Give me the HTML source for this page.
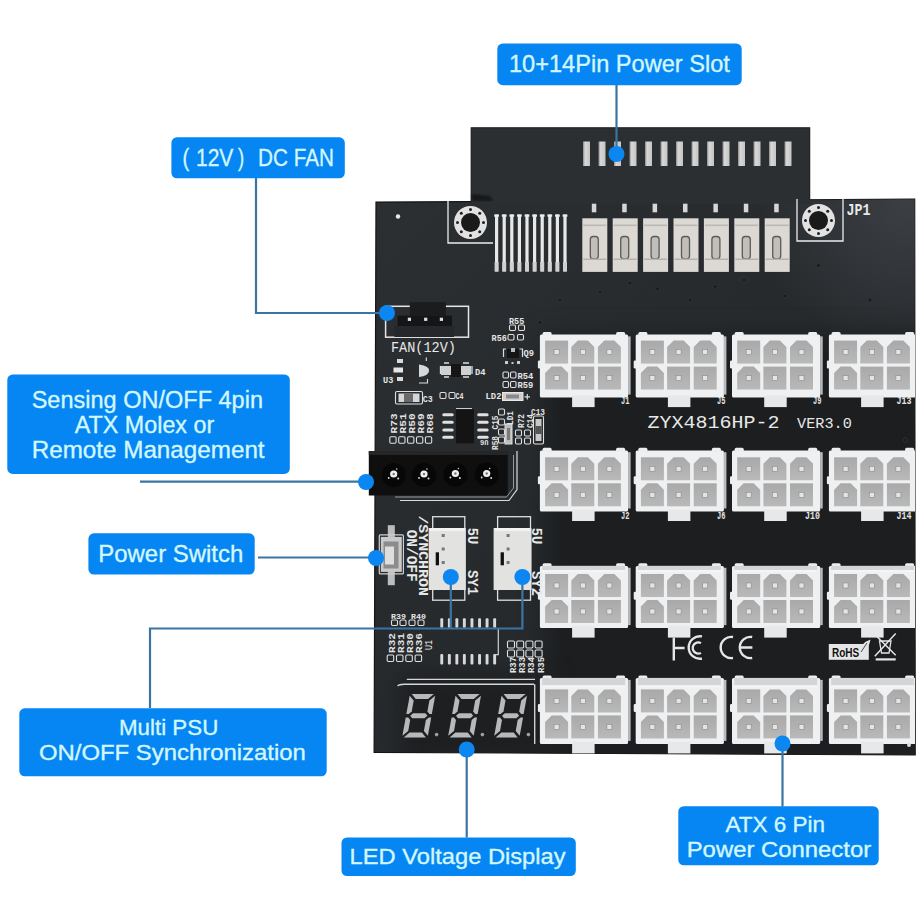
<!DOCTYPE html>
<html><head><meta charset="utf-8"><style>
html,body{margin:0;padding:0;background:#fff;width:923px;height:923px;overflow:hidden;position:relative}

</style></head><body>
<svg width="923" height="923" viewBox="0 0 923 923" style="position:absolute;left:0;top:0">
<defs>
<linearGradient id="cellg" x1="0" y1="0" x2="0" y2="1"><stop offset="0" stop-color="#a9a9a9"/><stop offset="1" stop-color="#b9b9b9"/></linearGradient>
<linearGradient id="pcbg" x1="0" y1="0" x2="1" y2="1"><stop offset="0" stop-color="#2c2f32"/><stop offset="0.5" stop-color="#272a2d"/><stop offset="1" stop-color="#26292c"/></linearGradient>
<linearGradient id="pin" x1="0" y1="0" x2="1" y2="0"><stop offset="0" stop-color="#8a8a8a"/><stop offset="0.3" stop-color="#d8d8d8"/><stop offset="1" stop-color="#c4c4c4"/></linearGradient>
</defs>
<rect width="923" height="923" fill="#ffffff"/>
<clipPath id="c4clip"><rect x="800" y="300" width="114.9" height="500"/></clipPath>
<clipPath id="pcbclip"><polygon points="376,202.1 914.7,199.2 915.2,755 374.1,752.3"/></clipPath>
<filter id="blur1" color-interpolation-filters="sRGB"><feGaussianBlur stdDeviation="1.2"/></filter>
<filter id="blur12" x="-20%" y="-20%" width="140%" height="140%" color-interpolation-filters="sRGB"><feGaussianBlur stdDeviation="12"/></filter>
<polygon points="376,202.1 914.7,199.2 915.2,755 374.1,752.3" fill="url(#pcbg)" stroke="#141516" stroke-width="1.2"/>
<g clip-path="url(#pcbclip)">
<radialGradient id="tr" cx="905" cy="205" r="150" gradientUnits="userSpaceOnUse"><stop offset="0" stop-color="#3b3f43"/><stop offset="1" stop-color="#3b3f43" stop-opacity="0"/></radialGradient>
<rect x="700" y="195" width="220" height="200" fill="url(#tr)"/>
<rect x="545" y="335" width="380" height="430" fill="#1c1e20" filter="url(#blur12)"/>
<rect x="400" y="675" width="150" height="90" fill="#1d1f21" filter="url(#blur12)"/>
</g>
<rect x="471.2" y="127.8" width="338.5" height="76" fill="#2c2f32"/>
<polyline points="471.2,201 471.2,127.8 809.7,127.8 809.7,199.5" fill="none" stroke="#18191a" stroke-width="1.1"/>
<path d="M472 194 L490 196 L493 201 L472 201 Z" fill="#17181a" filter="url(#blur1)"/>
<rect x="583.0" y="141.5" width="7" height="24.5" fill="url(#pin)"/>
<rect x="598.5" y="141.5" width="7" height="24.5" fill="url(#pin)"/>
<rect x="614.0" y="141.5" width="7" height="24.5" fill="url(#pin)"/>
<rect x="629.5" y="141.5" width="7" height="24.5" fill="url(#pin)"/>
<rect x="645.0" y="141.5" width="7" height="24.5" fill="url(#pin)"/>
<rect x="660.5" y="141.5" width="7" height="24.5" fill="url(#pin)"/>
<rect x="676.0" y="141.5" width="7" height="24.5" fill="url(#pin)"/>
<rect x="691.5" y="141.5" width="7" height="24.5" fill="url(#pin)"/>
<rect x="707.0" y="141.5" width="7" height="24.5" fill="url(#pin)"/>
<rect x="722.5" y="141.5" width="7" height="24.5" fill="url(#pin)"/>
<rect x="738.0" y="141.5" width="7" height="24.5" fill="url(#pin)"/>
<rect x="753.5" y="141.5" width="7" height="24.5" fill="url(#pin)"/>
<rect x="769.0" y="141.5" width="7" height="24.5" fill="url(#pin)"/>
<rect x="784.5" y="141.5" width="7" height="24.5" fill="url(#pin)"/>
<circle cx="470.5" cy="222.5" r="16.5" fill="#e2e2e2"/>
<circle cx="470.5" cy="222.5" r="9.5" fill="#1a1a1a"/>
<circle cx="483.5" cy="222.5" r="1.5" fill="#1e1e1e"/>
<circle cx="479.7" cy="231.7" r="1.5" fill="#1e1e1e"/>
<circle cx="470.5" cy="235.5" r="1.5" fill="#1e1e1e"/>
<circle cx="461.3" cy="231.7" r="1.5" fill="#1e1e1e"/>
<circle cx="457.5" cy="222.5" r="1.5" fill="#1e1e1e"/>
<circle cx="461.3" cy="213.3" r="1.5" fill="#1e1e1e"/>
<circle cx="470.5" cy="209.5" r="1.5" fill="#1e1e1e"/>
<circle cx="479.7" cy="213.3" r="1.5" fill="#1e1e1e"/>
<polyline points="448,201 448,243 493,243" fill="none" stroke="#ececec" stroke-width="1.3"/>
<circle cx="818.5" cy="220.5" r="16.5" fill="#e2e2e2"/>
<circle cx="818.5" cy="220.5" r="9.5" fill="#1a1a1a"/>
<circle cx="831.5" cy="220.5" r="1.5" fill="#1e1e1e"/>
<circle cx="827.7" cy="229.7" r="1.5" fill="#1e1e1e"/>
<circle cx="818.5" cy="233.5" r="1.5" fill="#1e1e1e"/>
<circle cx="809.3" cy="229.7" r="1.5" fill="#1e1e1e"/>
<circle cx="805.5" cy="220.5" r="1.5" fill="#1e1e1e"/>
<circle cx="809.3" cy="211.3" r="1.5" fill="#1e1e1e"/>
<circle cx="818.5" cy="207.5" r="1.5" fill="#1e1e1e"/>
<circle cx="827.7" cy="211.3" r="1.5" fill="#1e1e1e"/>
<polyline points="797,199 797,241 843,241 843,199" fill="none" stroke="#ececec" stroke-width="1.3"/>
<rect x="495.0" y="214.5" width="3.2" height="57" fill="#e8e8e8"/>
<rect x="494.2" y="214.5" width="4.8" height="2.2" fill="#ececec"/>
<rect x="494.6" y="262" width="4" height="9.5" fill="#d0d0d0"/>
<rect x="502.6" y="214.5" width="3.2" height="57" fill="#e8e8e8"/>
<rect x="501.8" y="214.5" width="4.8" height="2.2" fill="#ececec"/>
<rect x="502.2" y="262" width="4" height="9.5" fill="#d0d0d0"/>
<rect x="510.2" y="214.5" width="3.2" height="57" fill="#e8e8e8"/>
<rect x="509.4" y="214.5" width="4.8" height="2.2" fill="#ececec"/>
<rect x="509.8" y="262" width="4" height="9.5" fill="#d0d0d0"/>
<rect x="517.8" y="214.5" width="3.2" height="57" fill="#e8e8e8"/>
<rect x="517.0" y="214.5" width="4.8" height="2.2" fill="#ececec"/>
<rect x="517.4" y="262" width="4" height="9.5" fill="#d0d0d0"/>
<rect x="525.4" y="214.5" width="3.2" height="57" fill="#e8e8e8"/>
<rect x="524.6" y="214.5" width="4.8" height="2.2" fill="#ececec"/>
<rect x="525.0" y="262" width="4" height="9.5" fill="#d0d0d0"/>
<rect x="533.0" y="214.5" width="3.2" height="57" fill="#e8e8e8"/>
<rect x="532.2" y="214.5" width="4.8" height="2.2" fill="#ececec"/>
<rect x="532.6" y="262" width="4" height="9.5" fill="#d0d0d0"/>
<rect x="540.6" y="214.5" width="3.2" height="57" fill="#e8e8e8"/>
<rect x="539.8" y="214.5" width="4.8" height="2.2" fill="#ececec"/>
<rect x="540.2" y="262" width="4" height="9.5" fill="#d0d0d0"/>
<rect x="548.2" y="214.5" width="3.2" height="57" fill="#e8e8e8"/>
<rect x="547.4" y="214.5" width="4.8" height="2.2" fill="#ececec"/>
<rect x="547.8" y="262" width="4" height="9.5" fill="#d0d0d0"/>
<rect x="555.8" y="214.5" width="3.2" height="57" fill="#e8e8e8"/>
<rect x="555.0" y="214.5" width="4.8" height="2.2" fill="#ececec"/>
<rect x="555.4" y="262" width="4" height="9.5" fill="#d0d0d0"/>
<rect x="563.4" y="214.5" width="3.2" height="57" fill="#e8e8e8"/>
<rect x="562.6" y="214.5" width="4.8" height="2.2" fill="#ececec"/>
<rect x="563.0" y="262" width="4" height="9.5" fill="#d0d0d0"/>
<rect x="591.8" y="203.7" width="4.5" height="8.6" fill="#d6d6d6"/>
<rect x="582.3" y="218.3" width="25" height="53.6" fill="#dcd9d5"/>
<rect x="583.3" y="224.5" width="23" height="1.6" fill="#bcb8b2"/>
<rect x="590.3" y="236.5" width="8" height="22.5" rx="3" fill="#c2bfba" stroke="#5c5a57" stroke-width="1.3"/>
<rect x="583.3" y="258.5" width="23" height="1.5" fill="#b5b1ab"/>
<rect x="622.2" y="203.7" width="4.5" height="8.6" fill="#d6d6d6"/>
<rect x="612.7" y="218.3" width="25" height="53.6" fill="#dcd9d5"/>
<rect x="613.7" y="224.5" width="23" height="1.6" fill="#bcb8b2"/>
<rect x="620.7" y="236.5" width="8" height="22.5" rx="3" fill="#c2bfba" stroke="#5c5a57" stroke-width="1.3"/>
<rect x="613.7" y="258.5" width="23" height="1.5" fill="#b5b1ab"/>
<rect x="652.6" y="203.7" width="4.5" height="8.6" fill="#d6d6d6"/>
<rect x="643.1" y="218.3" width="25" height="53.6" fill="#dcd9d5"/>
<rect x="644.1" y="224.5" width="23" height="1.6" fill="#bcb8b2"/>
<rect x="651.1" y="236.5" width="8" height="22.5" rx="3" fill="#c2bfba" stroke="#5c5a57" stroke-width="1.3"/>
<rect x="644.1" y="258.5" width="23" height="1.5" fill="#b5b1ab"/>
<rect x="683.0" y="203.7" width="4.5" height="8.6" fill="#d6d6d6"/>
<rect x="673.5" y="218.3" width="25" height="53.6" fill="#dcd9d5"/>
<rect x="674.5" y="224.5" width="23" height="1.6" fill="#bcb8b2"/>
<rect x="681.5" y="236.5" width="8" height="22.5" rx="3" fill="#c2bfba" stroke="#5c5a57" stroke-width="1.3"/>
<rect x="674.5" y="258.5" width="23" height="1.5" fill="#b5b1ab"/>
<rect x="713.4" y="203.7" width="4.5" height="8.6" fill="#d6d6d6"/>
<rect x="703.9" y="218.3" width="25" height="53.6" fill="#dcd9d5"/>
<rect x="704.9" y="224.5" width="23" height="1.6" fill="#bcb8b2"/>
<rect x="711.9" y="236.5" width="8" height="22.5" rx="3" fill="#c2bfba" stroke="#5c5a57" stroke-width="1.3"/>
<rect x="704.9" y="258.5" width="23" height="1.5" fill="#b5b1ab"/>
<rect x="743.8" y="203.7" width="4.5" height="8.6" fill="#d6d6d6"/>
<rect x="734.3" y="218.3" width="25" height="53.6" fill="#dcd9d5"/>
<rect x="735.3" y="224.5" width="23" height="1.6" fill="#bcb8b2"/>
<rect x="742.3" y="236.5" width="8" height="22.5" rx="3" fill="#c2bfba" stroke="#5c5a57" stroke-width="1.3"/>
<rect x="735.3" y="258.5" width="23" height="1.5" fill="#b5b1ab"/>
<rect x="774.2" y="203.7" width="4.5" height="8.6" fill="#d6d6d6"/>
<rect x="764.7" y="218.3" width="25" height="53.6" fill="#dcd9d5"/>
<rect x="765.7" y="224.5" width="23" height="1.6" fill="#bcb8b2"/>
<rect x="772.7" y="236.5" width="8" height="22.5" rx="3" fill="#c2bfba" stroke="#5c5a57" stroke-width="1.3"/>
<rect x="765.7" y="258.5" width="23" height="1.5" fill="#b5b1ab"/>
<text x="846.5" y="215.3" font-family="Liberation Mono" font-size="16" font-weight="bold" fill="#e8e8e8" textLength="24" lengthAdjust="spacingAndGlyphs">JP1</text>
<circle cx="398" cy="216.5" r="2.2" fill="#e8e8e8"/>
<circle cx="818.4" cy="265.5" r="2.1" fill="#1a1b1d" stroke="#34373a" stroke-width="0.8"/>
<circle cx="657.6" cy="288.8" r="2.1" fill="#1a1b1d" stroke="#34373a" stroke-width="0.8"/>
<circle cx="715.2" cy="286.4" r="2.1" fill="#1a1b1d" stroke="#34373a" stroke-width="0.8"/>
<circle cx="744" cy="280" r="2.1" fill="#1a1b1d" stroke="#34373a" stroke-width="0.8"/>
<circle cx="540" cy="322.4" r="2.1" fill="#1a1b1d" stroke="#34373a" stroke-width="0.8"/>
<circle cx="630" cy="283" r="2.1" fill="#1a1b1d" stroke="#34373a" stroke-width="0.8"/>
<circle cx="690" cy="300" r="2.1" fill="#1a1b1d" stroke="#34373a" stroke-width="0.8"/>
<circle cx="600" cy="292" r="2.1" fill="#1a1b1d" stroke="#34373a" stroke-width="0.8"/>
<circle cx="870" cy="300" r="2.1" fill="#1a1b1d" stroke="#34373a" stroke-width="0.8"/>
<circle cx="880" cy="345" r="2.1" fill="#1a1b1d" stroke="#34373a" stroke-width="0.8"/>
<circle cx="560" cy="300" r="2.1" fill="#1a1b1d" stroke="#34373a" stroke-width="0.8"/>
<circle cx="785" cy="296" r="2.1" fill="#1a1b1d" stroke="#34373a" stroke-width="0.8"/>
<circle cx="905" cy="440" r="2.1" fill="#1a1b1d" stroke="#34373a" stroke-width="0.8"/>
<g><g transform="translate(539.1,333.4)">
<rect x="89" y="3" width="2.5" height="58.2" fill="#b9bcbe"/>
<rect x="0.8" y="1.2" width="88.2" height="63.0" rx="1.5" fill="#eef0f1"/>
<rect x="3.5" y="-1.5" width="9" height="4" rx="1.5" fill="#eceeef"/>
<rect x="77" y="-1.5" width="9" height="4" rx="1.5" fill="#eceeef"/>
<rect x="-1.2" y="27" width="3" height="8" rx="1.2" fill="#eceeef"/>
<rect x="33" y="62.2" width="22.5" height="11.5" fill="#e6e8e9"/>
<path d="M6.0 7.2 H29.0 V30.2 H6.0 Z" fill="url(#cellg)"/>
<rect x="15.0" y="16.2" width="5" height="5" fill="#e4e4e4" stroke="#8a8a8a" stroke-width="0.6"/>
<path d="M32.2 13.7 L38.7 7.2 H48.7 L55.2 13.7 V30.2 H32.2 Z" fill="url(#cellg)"/>
<rect x="41.2" y="16.2" width="5" height="5" fill="#e4e4e4" stroke="#8a8a8a" stroke-width="0.6"/>
<path d="M58.8 13.7 L65.3 7.2 H75.3 L81.8 13.7 V30.2 H58.8 Z" fill="url(#cellg)"/>
<rect x="67.8" y="16.2" width="5" height="5" fill="#e4e4e4" stroke="#8a8a8a" stroke-width="0.6"/>
<path d="M6.0 39.7 L12.5 33.2 H22.5 L29.0 39.7 V56.2 H6.0 Z" fill="url(#cellg)"/>
<rect x="15.0" y="42.2" width="5" height="5" fill="#e4e4e4" stroke="#8a8a8a" stroke-width="0.6"/>
<path d="M32.2 33.2 H55.2 V56.2 H32.2 Z" fill="url(#cellg)"/>
<rect x="41.2" y="42.2" width="5" height="5" fill="#e4e4e4" stroke="#8a8a8a" stroke-width="0.6"/>
<path d="M58.8 33.2 H81.8 V56.2 H58.8 Z" fill="url(#cellg)"/>
<rect x="67.8" y="42.2" width="5" height="5" fill="#e4e4e4" stroke="#8a8a8a" stroke-width="0.6"/>
</g></g>
<g><g transform="translate(634.9,333.4)">
<rect x="89" y="3" width="2.5" height="58.2" fill="#b9bcbe"/>
<rect x="0.8" y="1.2" width="88.2" height="63.0" rx="1.5" fill="#eef0f1"/>
<rect x="3.5" y="-1.5" width="9" height="4" rx="1.5" fill="#eceeef"/>
<rect x="77" y="-1.5" width="9" height="4" rx="1.5" fill="#eceeef"/>
<rect x="-1.2" y="27" width="3" height="8" rx="1.2" fill="#eceeef"/>
<rect x="33" y="62.2" width="22.5" height="11.5" fill="#e6e8e9"/>
<path d="M6.0 7.2 H29.0 V30.2 H6.0 Z" fill="url(#cellg)"/>
<rect x="15.0" y="16.2" width="5" height="5" fill="#e4e4e4" stroke="#8a8a8a" stroke-width="0.6"/>
<path d="M32.2 13.7 L38.7 7.2 H48.7 L55.2 13.7 V30.2 H32.2 Z" fill="url(#cellg)"/>
<rect x="41.2" y="16.2" width="5" height="5" fill="#e4e4e4" stroke="#8a8a8a" stroke-width="0.6"/>
<path d="M58.8 13.7 L65.3 7.2 H75.3 L81.8 13.7 V30.2 H58.8 Z" fill="url(#cellg)"/>
<rect x="67.8" y="16.2" width="5" height="5" fill="#e4e4e4" stroke="#8a8a8a" stroke-width="0.6"/>
<path d="M6.0 39.7 L12.5 33.2 H22.5 L29.0 39.7 V56.2 H6.0 Z" fill="url(#cellg)"/>
<rect x="15.0" y="42.2" width="5" height="5" fill="#e4e4e4" stroke="#8a8a8a" stroke-width="0.6"/>
<path d="M32.2 33.2 H55.2 V56.2 H32.2 Z" fill="url(#cellg)"/>
<rect x="41.2" y="42.2" width="5" height="5" fill="#e4e4e4" stroke="#8a8a8a" stroke-width="0.6"/>
<path d="M58.8 33.2 H81.8 V56.2 H58.8 Z" fill="url(#cellg)"/>
<rect x="67.8" y="42.2" width="5" height="5" fill="#e4e4e4" stroke="#8a8a8a" stroke-width="0.6"/>
</g></g>
<g><g transform="translate(731.2,333.4)">
<rect x="89" y="3" width="2.5" height="58.2" fill="#b9bcbe"/>
<rect x="0.8" y="1.2" width="88.2" height="63.0" rx="1.5" fill="#eef0f1"/>
<rect x="3.5" y="-1.5" width="9" height="4" rx="1.5" fill="#eceeef"/>
<rect x="77" y="-1.5" width="9" height="4" rx="1.5" fill="#eceeef"/>
<rect x="-1.2" y="27" width="3" height="8" rx="1.2" fill="#eceeef"/>
<rect x="33" y="62.2" width="22.5" height="11.5" fill="#e6e8e9"/>
<path d="M6.0 7.2 H29.0 V30.2 H6.0 Z" fill="url(#cellg)"/>
<rect x="15.0" y="16.2" width="5" height="5" fill="#e4e4e4" stroke="#8a8a8a" stroke-width="0.6"/>
<path d="M32.2 13.7 L38.7 7.2 H48.7 L55.2 13.7 V30.2 H32.2 Z" fill="url(#cellg)"/>
<rect x="41.2" y="16.2" width="5" height="5" fill="#e4e4e4" stroke="#8a8a8a" stroke-width="0.6"/>
<path d="M58.8 13.7 L65.3 7.2 H75.3 L81.8 13.7 V30.2 H58.8 Z" fill="url(#cellg)"/>
<rect x="67.8" y="16.2" width="5" height="5" fill="#e4e4e4" stroke="#8a8a8a" stroke-width="0.6"/>
<path d="M6.0 39.7 L12.5 33.2 H22.5 L29.0 39.7 V56.2 H6.0 Z" fill="url(#cellg)"/>
<rect x="15.0" y="42.2" width="5" height="5" fill="#e4e4e4" stroke="#8a8a8a" stroke-width="0.6"/>
<path d="M32.2 33.2 H55.2 V56.2 H32.2 Z" fill="url(#cellg)"/>
<rect x="41.2" y="42.2" width="5" height="5" fill="#e4e4e4" stroke="#8a8a8a" stroke-width="0.6"/>
<path d="M58.8 33.2 H81.8 V56.2 H58.8 Z" fill="url(#cellg)"/>
<rect x="67.8" y="42.2" width="5" height="5" fill="#e4e4e4" stroke="#8a8a8a" stroke-width="0.6"/>
</g></g>
<g clip-path="url(#c4clip)"><g transform="translate(828.1,333.4)">
<rect x="0.8" y="1.2" width="88.2" height="63.0" rx="1.5" fill="#eef0f1"/>
<rect x="3.5" y="-1.5" width="9" height="4" rx="1.5" fill="#eceeef"/>
<rect x="77" y="-1.5" width="9" height="4" rx="1.5" fill="#eceeef"/>
<rect x="-1.2" y="27" width="3" height="8" rx="1.2" fill="#eceeef"/>
<rect x="33" y="62.2" width="22.5" height="11.5" fill="#e6e8e9"/>
<path d="M6.0 7.2 H29.0 V30.2 H6.0 Z" fill="url(#cellg)"/>
<rect x="15.0" y="16.2" width="5" height="5" fill="#e4e4e4" stroke="#8a8a8a" stroke-width="0.6"/>
<path d="M32.2 13.7 L38.7 7.2 H48.7 L55.2 13.7 V30.2 H32.2 Z" fill="url(#cellg)"/>
<rect x="41.2" y="16.2" width="5" height="5" fill="#e4e4e4" stroke="#8a8a8a" stroke-width="0.6"/>
<path d="M58.8 13.7 L65.3 7.2 H75.3 L81.8 13.7 V30.2 H58.8 Z" fill="url(#cellg)"/>
<rect x="67.8" y="16.2" width="5" height="5" fill="#e4e4e4" stroke="#8a8a8a" stroke-width="0.6"/>
<path d="M6.0 39.7 L12.5 33.2 H22.5 L29.0 39.7 V56.2 H6.0 Z" fill="url(#cellg)"/>
<rect x="15.0" y="42.2" width="5" height="5" fill="#e4e4e4" stroke="#8a8a8a" stroke-width="0.6"/>
<path d="M32.2 33.2 H55.2 V56.2 H32.2 Z" fill="url(#cellg)"/>
<rect x="41.2" y="42.2" width="5" height="5" fill="#e4e4e4" stroke="#8a8a8a" stroke-width="0.6"/>
<path d="M58.8 33.2 H81.8 V56.2 H58.8 Z" fill="url(#cellg)"/>
<rect x="67.8" y="42.2" width="5" height="5" fill="#e4e4e4" stroke="#8a8a8a" stroke-width="0.6"/>
</g></g>
<g><g transform="translate(539.1,449.2)">
<rect x="89" y="3" width="2.5" height="56.3" fill="#b9bcbe"/>
<rect x="0.8" y="1.2" width="88.2" height="61.099999999999994" rx="1.5" fill="#eef0f1"/>
<rect x="3.5" y="-1.5" width="9" height="4" rx="1.5" fill="#eceeef"/>
<rect x="77" y="-1.5" width="9" height="4" rx="1.5" fill="#eceeef"/>
<rect x="-1.2" y="27" width="3" height="8" rx="1.2" fill="#eceeef"/>
<rect x="33" y="60.3" width="22.5" height="11.5" fill="#e6e8e9"/>
<path d="M6.0 8.1 H29.0 V31.1 H6.0 Z" fill="url(#cellg)"/>
<rect x="15.0" y="17.1" width="5" height="5" fill="#e4e4e4" stroke="#8a8a8a" stroke-width="0.6"/>
<path d="M32.2 14.6 L38.7 8.1 H48.7 L55.2 14.6 V31.1 H32.2 Z" fill="url(#cellg)"/>
<rect x="41.2" y="17.1" width="5" height="5" fill="#e4e4e4" stroke="#8a8a8a" stroke-width="0.6"/>
<path d="M58.8 14.6 L65.3 8.1 H75.3 L81.8 14.6 V31.1 H58.8 Z" fill="url(#cellg)"/>
<rect x="67.8" y="17.1" width="5" height="5" fill="#e4e4e4" stroke="#8a8a8a" stroke-width="0.6"/>
<path d="M6.0 40.6 L12.5 34.1 H22.5 L29.0 40.6 V57.1 H6.0 Z" fill="url(#cellg)"/>
<rect x="15.0" y="43.1" width="5" height="5" fill="#e4e4e4" stroke="#8a8a8a" stroke-width="0.6"/>
<path d="M32.2 34.1 H55.2 V57.1 H32.2 Z" fill="url(#cellg)"/>
<rect x="41.2" y="43.1" width="5" height="5" fill="#e4e4e4" stroke="#8a8a8a" stroke-width="0.6"/>
<path d="M58.8 34.1 H81.8 V57.1 H58.8 Z" fill="url(#cellg)"/>
<rect x="67.8" y="43.1" width="5" height="5" fill="#e4e4e4" stroke="#8a8a8a" stroke-width="0.6"/>
</g></g>
<g><g transform="translate(634.9,449.2)">
<rect x="89" y="3" width="2.5" height="56.3" fill="#b9bcbe"/>
<rect x="0.8" y="1.2" width="88.2" height="61.099999999999994" rx="1.5" fill="#eef0f1"/>
<rect x="3.5" y="-1.5" width="9" height="4" rx="1.5" fill="#eceeef"/>
<rect x="77" y="-1.5" width="9" height="4" rx="1.5" fill="#eceeef"/>
<rect x="-1.2" y="27" width="3" height="8" rx="1.2" fill="#eceeef"/>
<rect x="33" y="60.3" width="22.5" height="11.5" fill="#e6e8e9"/>
<path d="M6.0 8.1 H29.0 V31.1 H6.0 Z" fill="url(#cellg)"/>
<rect x="15.0" y="17.1" width="5" height="5" fill="#e4e4e4" stroke="#8a8a8a" stroke-width="0.6"/>
<path d="M32.2 14.6 L38.7 8.1 H48.7 L55.2 14.6 V31.1 H32.2 Z" fill="url(#cellg)"/>
<rect x="41.2" y="17.1" width="5" height="5" fill="#e4e4e4" stroke="#8a8a8a" stroke-width="0.6"/>
<path d="M58.8 14.6 L65.3 8.1 H75.3 L81.8 14.6 V31.1 H58.8 Z" fill="url(#cellg)"/>
<rect x="67.8" y="17.1" width="5" height="5" fill="#e4e4e4" stroke="#8a8a8a" stroke-width="0.6"/>
<path d="M6.0 40.6 L12.5 34.1 H22.5 L29.0 40.6 V57.1 H6.0 Z" fill="url(#cellg)"/>
<rect x="15.0" y="43.1" width="5" height="5" fill="#e4e4e4" stroke="#8a8a8a" stroke-width="0.6"/>
<path d="M32.2 34.1 H55.2 V57.1 H32.2 Z" fill="url(#cellg)"/>
<rect x="41.2" y="43.1" width="5" height="5" fill="#e4e4e4" stroke="#8a8a8a" stroke-width="0.6"/>
<path d="M58.8 34.1 H81.8 V57.1 H58.8 Z" fill="url(#cellg)"/>
<rect x="67.8" y="43.1" width="5" height="5" fill="#e4e4e4" stroke="#8a8a8a" stroke-width="0.6"/>
</g></g>
<g><g transform="translate(731.2,449.2)">
<rect x="89" y="3" width="2.5" height="56.3" fill="#b9bcbe"/>
<rect x="0.8" y="1.2" width="88.2" height="61.099999999999994" rx="1.5" fill="#eef0f1"/>
<rect x="3.5" y="-1.5" width="9" height="4" rx="1.5" fill="#eceeef"/>
<rect x="77" y="-1.5" width="9" height="4" rx="1.5" fill="#eceeef"/>
<rect x="-1.2" y="27" width="3" height="8" rx="1.2" fill="#eceeef"/>
<rect x="33" y="60.3" width="22.5" height="11.5" fill="#e6e8e9"/>
<path d="M6.0 8.1 H29.0 V31.1 H6.0 Z" fill="url(#cellg)"/>
<rect x="15.0" y="17.1" width="5" height="5" fill="#e4e4e4" stroke="#8a8a8a" stroke-width="0.6"/>
<path d="M32.2 14.6 L38.7 8.1 H48.7 L55.2 14.6 V31.1 H32.2 Z" fill="url(#cellg)"/>
<rect x="41.2" y="17.1" width="5" height="5" fill="#e4e4e4" stroke="#8a8a8a" stroke-width="0.6"/>
<path d="M58.8 14.6 L65.3 8.1 H75.3 L81.8 14.6 V31.1 H58.8 Z" fill="url(#cellg)"/>
<rect x="67.8" y="17.1" width="5" height="5" fill="#e4e4e4" stroke="#8a8a8a" stroke-width="0.6"/>
<path d="M6.0 40.6 L12.5 34.1 H22.5 L29.0 40.6 V57.1 H6.0 Z" fill="url(#cellg)"/>
<rect x="15.0" y="43.1" width="5" height="5" fill="#e4e4e4" stroke="#8a8a8a" stroke-width="0.6"/>
<path d="M32.2 34.1 H55.2 V57.1 H32.2 Z" fill="url(#cellg)"/>
<rect x="41.2" y="43.1" width="5" height="5" fill="#e4e4e4" stroke="#8a8a8a" stroke-width="0.6"/>
<path d="M58.8 34.1 H81.8 V57.1 H58.8 Z" fill="url(#cellg)"/>
<rect x="67.8" y="43.1" width="5" height="5" fill="#e4e4e4" stroke="#8a8a8a" stroke-width="0.6"/>
</g></g>
<g clip-path="url(#c4clip)"><g transform="translate(828.1,449.2)">
<rect x="0.8" y="1.2" width="88.2" height="61.099999999999994" rx="1.5" fill="#eef0f1"/>
<rect x="3.5" y="-1.5" width="9" height="4" rx="1.5" fill="#eceeef"/>
<rect x="77" y="-1.5" width="9" height="4" rx="1.5" fill="#eceeef"/>
<rect x="-1.2" y="27" width="3" height="8" rx="1.2" fill="#eceeef"/>
<rect x="33" y="60.3" width="22.5" height="11.5" fill="#e6e8e9"/>
<path d="M6.0 8.1 H29.0 V31.1 H6.0 Z" fill="url(#cellg)"/>
<rect x="15.0" y="17.1" width="5" height="5" fill="#e4e4e4" stroke="#8a8a8a" stroke-width="0.6"/>
<path d="M32.2 14.6 L38.7 8.1 H48.7 L55.2 14.6 V31.1 H32.2 Z" fill="url(#cellg)"/>
<rect x="41.2" y="17.1" width="5" height="5" fill="#e4e4e4" stroke="#8a8a8a" stroke-width="0.6"/>
<path d="M58.8 14.6 L65.3 8.1 H75.3 L81.8 14.6 V31.1 H58.8 Z" fill="url(#cellg)"/>
<rect x="67.8" y="17.1" width="5" height="5" fill="#e4e4e4" stroke="#8a8a8a" stroke-width="0.6"/>
<path d="M6.0 40.6 L12.5 34.1 H22.5 L29.0 40.6 V57.1 H6.0 Z" fill="url(#cellg)"/>
<rect x="15.0" y="43.1" width="5" height="5" fill="#e4e4e4" stroke="#8a8a8a" stroke-width="0.6"/>
<path d="M32.2 34.1 H55.2 V57.1 H32.2 Z" fill="url(#cellg)"/>
<rect x="41.2" y="43.1" width="5" height="5" fill="#e4e4e4" stroke="#8a8a8a" stroke-width="0.6"/>
<path d="M58.8 34.1 H81.8 V57.1 H58.8 Z" fill="url(#cellg)"/>
<rect x="67.8" y="43.1" width="5" height="5" fill="#e4e4e4" stroke="#8a8a8a" stroke-width="0.6"/>
</g></g>
<g><g transform="translate(539.1,564.8)">
<rect x="89" y="3" width="2.5" height="57.3" fill="#b9bcbe"/>
<rect x="0.8" y="1.2" width="88.2" height="62.099999999999994" rx="1.5" fill="#eef0f1"/>
<rect x="3.5" y="-1.5" width="9" height="4" rx="1.5" fill="#eceeef"/>
<rect x="77" y="-1.5" width="9" height="4" rx="1.5" fill="#eceeef"/>
<rect x="-1.2" y="27" width="3" height="8" rx="1.2" fill="#eceeef"/>
<rect x="33" y="61.3" width="22.5" height="11.5" fill="#e6e8e9"/>
<rect x="3" y="1" width="83" height="4.2" fill="#d3d5d6"/>
<rect x="3" y="5.2" width="83" height="2" fill="#f4f5f5"/>
<path d="M6.0 9.2 H29.0 V32.2 H6.0 Z" fill="url(#cellg)"/>
<rect x="15.0" y="18.2" width="5" height="5" fill="#e4e4e4" stroke="#8a8a8a" stroke-width="0.6"/>
<path d="M32.2 15.7 L38.7 9.2 H48.7 L55.2 15.7 V32.2 H32.2 Z" fill="url(#cellg)"/>
<rect x="41.2" y="18.2" width="5" height="5" fill="#e4e4e4" stroke="#8a8a8a" stroke-width="0.6"/>
<path d="M58.8 15.7 L65.3 9.2 H75.3 L81.8 15.7 V32.2 H58.8 Z" fill="url(#cellg)"/>
<rect x="67.8" y="18.2" width="5" height="5" fill="#e4e4e4" stroke="#8a8a8a" stroke-width="0.6"/>
<path d="M6.0 41.7 L12.5 35.2 H22.5 L29.0 41.7 V58.2 H6.0 Z" fill="url(#cellg)"/>
<rect x="15.0" y="44.2" width="5" height="5" fill="#e4e4e4" stroke="#8a8a8a" stroke-width="0.6"/>
<path d="M32.2 35.2 H55.2 V58.2 H32.2 Z" fill="url(#cellg)"/>
<rect x="41.2" y="44.2" width="5" height="5" fill="#e4e4e4" stroke="#8a8a8a" stroke-width="0.6"/>
<path d="M58.8 35.2 H81.8 V58.2 H58.8 Z" fill="url(#cellg)"/>
<rect x="67.8" y="44.2" width="5" height="5" fill="#e4e4e4" stroke="#8a8a8a" stroke-width="0.6"/>
</g></g>
<g><g transform="translate(634.9,564.8)">
<rect x="89" y="3" width="2.5" height="57.3" fill="#b9bcbe"/>
<rect x="0.8" y="1.2" width="88.2" height="62.099999999999994" rx="1.5" fill="#eef0f1"/>
<rect x="3.5" y="-1.5" width="9" height="4" rx="1.5" fill="#eceeef"/>
<rect x="77" y="-1.5" width="9" height="4" rx="1.5" fill="#eceeef"/>
<rect x="-1.2" y="27" width="3" height="8" rx="1.2" fill="#eceeef"/>
<rect x="33" y="61.3" width="22.5" height="11.5" fill="#e6e8e9"/>
<rect x="3" y="1" width="83" height="4.2" fill="#d3d5d6"/>
<rect x="3" y="5.2" width="83" height="2" fill="#f4f5f5"/>
<path d="M6.0 9.2 H29.0 V32.2 H6.0 Z" fill="url(#cellg)"/>
<rect x="15.0" y="18.2" width="5" height="5" fill="#e4e4e4" stroke="#8a8a8a" stroke-width="0.6"/>
<path d="M32.2 15.7 L38.7 9.2 H48.7 L55.2 15.7 V32.2 H32.2 Z" fill="url(#cellg)"/>
<rect x="41.2" y="18.2" width="5" height="5" fill="#e4e4e4" stroke="#8a8a8a" stroke-width="0.6"/>
<path d="M58.8 15.7 L65.3 9.2 H75.3 L81.8 15.7 V32.2 H58.8 Z" fill="url(#cellg)"/>
<rect x="67.8" y="18.2" width="5" height="5" fill="#e4e4e4" stroke="#8a8a8a" stroke-width="0.6"/>
<path d="M6.0 41.7 L12.5 35.2 H22.5 L29.0 41.7 V58.2 H6.0 Z" fill="url(#cellg)"/>
<rect x="15.0" y="44.2" width="5" height="5" fill="#e4e4e4" stroke="#8a8a8a" stroke-width="0.6"/>
<path d="M32.2 35.2 H55.2 V58.2 H32.2 Z" fill="url(#cellg)"/>
<rect x="41.2" y="44.2" width="5" height="5" fill="#e4e4e4" stroke="#8a8a8a" stroke-width="0.6"/>
<path d="M58.8 35.2 H81.8 V58.2 H58.8 Z" fill="url(#cellg)"/>
<rect x="67.8" y="44.2" width="5" height="5" fill="#e4e4e4" stroke="#8a8a8a" stroke-width="0.6"/>
</g></g>
<g><g transform="translate(731.2,564.8)">
<rect x="89" y="3" width="2.5" height="57.3" fill="#b9bcbe"/>
<rect x="0.8" y="1.2" width="88.2" height="62.099999999999994" rx="1.5" fill="#eef0f1"/>
<rect x="3.5" y="-1.5" width="9" height="4" rx="1.5" fill="#eceeef"/>
<rect x="77" y="-1.5" width="9" height="4" rx="1.5" fill="#eceeef"/>
<rect x="-1.2" y="27" width="3" height="8" rx="1.2" fill="#eceeef"/>
<rect x="33" y="61.3" width="22.5" height="11.5" fill="#e6e8e9"/>
<rect x="3" y="1" width="83" height="4.2" fill="#d3d5d6"/>
<rect x="3" y="5.2" width="83" height="2" fill="#f4f5f5"/>
<path d="M6.0 9.2 H29.0 V32.2 H6.0 Z" fill="url(#cellg)"/>
<rect x="15.0" y="18.2" width="5" height="5" fill="#e4e4e4" stroke="#8a8a8a" stroke-width="0.6"/>
<path d="M32.2 15.7 L38.7 9.2 H48.7 L55.2 15.7 V32.2 H32.2 Z" fill="url(#cellg)"/>
<rect x="41.2" y="18.2" width="5" height="5" fill="#e4e4e4" stroke="#8a8a8a" stroke-width="0.6"/>
<path d="M58.8 15.7 L65.3 9.2 H75.3 L81.8 15.7 V32.2 H58.8 Z" fill="url(#cellg)"/>
<rect x="67.8" y="18.2" width="5" height="5" fill="#e4e4e4" stroke="#8a8a8a" stroke-width="0.6"/>
<path d="M6.0 41.7 L12.5 35.2 H22.5 L29.0 41.7 V58.2 H6.0 Z" fill="url(#cellg)"/>
<rect x="15.0" y="44.2" width="5" height="5" fill="#e4e4e4" stroke="#8a8a8a" stroke-width="0.6"/>
<path d="M32.2 35.2 H55.2 V58.2 H32.2 Z" fill="url(#cellg)"/>
<rect x="41.2" y="44.2" width="5" height="5" fill="#e4e4e4" stroke="#8a8a8a" stroke-width="0.6"/>
<path d="M58.8 35.2 H81.8 V58.2 H58.8 Z" fill="url(#cellg)"/>
<rect x="67.8" y="44.2" width="5" height="5" fill="#e4e4e4" stroke="#8a8a8a" stroke-width="0.6"/>
</g></g>
<g clip-path="url(#c4clip)"><g transform="translate(828.1,564.8)">
<rect x="0.8" y="1.2" width="88.2" height="62.099999999999994" rx="1.5" fill="#eef0f1"/>
<rect x="3.5" y="-1.5" width="9" height="4" rx="1.5" fill="#eceeef"/>
<rect x="77" y="-1.5" width="9" height="4" rx="1.5" fill="#eceeef"/>
<rect x="-1.2" y="27" width="3" height="8" rx="1.2" fill="#eceeef"/>
<rect x="33" y="61.3" width="22.5" height="11.5" fill="#e6e8e9"/>
<rect x="3" y="1" width="83" height="4.2" fill="#d3d5d6"/>
<rect x="3" y="5.2" width="83" height="2" fill="#f4f5f5"/>
<path d="M6.0 9.2 H29.0 V32.2 H6.0 Z" fill="url(#cellg)"/>
<rect x="15.0" y="18.2" width="5" height="5" fill="#e4e4e4" stroke="#8a8a8a" stroke-width="0.6"/>
<path d="M32.2 15.7 L38.7 9.2 H48.7 L55.2 15.7 V32.2 H32.2 Z" fill="url(#cellg)"/>
<rect x="41.2" y="18.2" width="5" height="5" fill="#e4e4e4" stroke="#8a8a8a" stroke-width="0.6"/>
<path d="M58.8 15.7 L65.3 9.2 H75.3 L81.8 15.7 V32.2 H58.8 Z" fill="url(#cellg)"/>
<rect x="67.8" y="18.2" width="5" height="5" fill="#e4e4e4" stroke="#8a8a8a" stroke-width="0.6"/>
<path d="M6.0 41.7 L12.5 35.2 H22.5 L29.0 41.7 V58.2 H6.0 Z" fill="url(#cellg)"/>
<rect x="15.0" y="44.2" width="5" height="5" fill="#e4e4e4" stroke="#8a8a8a" stroke-width="0.6"/>
<path d="M32.2 35.2 H55.2 V58.2 H32.2 Z" fill="url(#cellg)"/>
<rect x="41.2" y="44.2" width="5" height="5" fill="#e4e4e4" stroke="#8a8a8a" stroke-width="0.6"/>
<path d="M58.8 35.2 H81.8 V58.2 H58.8 Z" fill="url(#cellg)"/>
<rect x="67.8" y="44.2" width="5" height="5" fill="#e4e4e4" stroke="#8a8a8a" stroke-width="0.6"/>
</g></g>
<g><g transform="translate(539.1,676.9)">
<rect x="89" y="3" width="2.5" height="61.0" fill="#b9bcbe"/>
<rect x="0.8" y="1.2" width="88.2" height="65.8" rx="1.5" fill="#eef0f1"/>
<rect x="3.5" y="-1.5" width="9" height="4" rx="1.5" fill="#eceeef"/>
<rect x="77" y="-1.5" width="9" height="4" rx="1.5" fill="#eceeef"/>
<rect x="-1.2" y="27" width="3" height="8" rx="1.2" fill="#eceeef"/>
<rect x="33" y="65.0" width="22.5" height="11.5" fill="#e6e8e9"/>
<rect x="3" y="1" width="83" height="7.5" fill="#d3d5d6"/>
<rect x="3" y="8.5" width="83" height="2" fill="#f4f5f5"/>
<path d="M6.0 12.5 H29.0 V35.5 H6.0 Z" fill="url(#cellg)"/>
<rect x="15.0" y="21.5" width="5" height="5" fill="#e4e4e4" stroke="#8a8a8a" stroke-width="0.6"/>
<path d="M32.2 19.0 L38.7 12.5 H48.7 L55.2 19.0 V35.5 H32.2 Z" fill="url(#cellg)"/>
<rect x="41.2" y="21.5" width="5" height="5" fill="#e4e4e4" stroke="#8a8a8a" stroke-width="0.6"/>
<path d="M58.8 19.0 L65.3 12.5 H75.3 L81.8 19.0 V35.5 H58.8 Z" fill="url(#cellg)"/>
<rect x="67.8" y="21.5" width="5" height="5" fill="#e4e4e4" stroke="#8a8a8a" stroke-width="0.6"/>
<path d="M6.0 45.0 L12.5 38.5 H22.5 L29.0 45.0 V61.5 H6.0 Z" fill="url(#cellg)"/>
<rect x="15.0" y="47.5" width="5" height="5" fill="#e4e4e4" stroke="#8a8a8a" stroke-width="0.6"/>
<path d="M32.2 38.5 H55.2 V61.5 H32.2 Z" fill="url(#cellg)"/>
<rect x="41.2" y="47.5" width="5" height="5" fill="#e4e4e4" stroke="#8a8a8a" stroke-width="0.6"/>
<path d="M58.8 38.5 H81.8 V61.5 H58.8 Z" fill="url(#cellg)"/>
<rect x="67.8" y="47.5" width="5" height="5" fill="#e4e4e4" stroke="#8a8a8a" stroke-width="0.6"/>
</g></g>
<g><g transform="translate(634.9,676.9)">
<rect x="89" y="3" width="2.5" height="61.0" fill="#b9bcbe"/>
<rect x="0.8" y="1.2" width="88.2" height="65.8" rx="1.5" fill="#eef0f1"/>
<rect x="3.5" y="-1.5" width="9" height="4" rx="1.5" fill="#eceeef"/>
<rect x="77" y="-1.5" width="9" height="4" rx="1.5" fill="#eceeef"/>
<rect x="-1.2" y="27" width="3" height="8" rx="1.2" fill="#eceeef"/>
<rect x="33" y="65.0" width="22.5" height="11.5" fill="#e6e8e9"/>
<rect x="3" y="1" width="83" height="7.5" fill="#d3d5d6"/>
<rect x="3" y="8.5" width="83" height="2" fill="#f4f5f5"/>
<path d="M6.0 12.5 H29.0 V35.5 H6.0 Z" fill="url(#cellg)"/>
<rect x="15.0" y="21.5" width="5" height="5" fill="#e4e4e4" stroke="#8a8a8a" stroke-width="0.6"/>
<path d="M32.2 19.0 L38.7 12.5 H48.7 L55.2 19.0 V35.5 H32.2 Z" fill="url(#cellg)"/>
<rect x="41.2" y="21.5" width="5" height="5" fill="#e4e4e4" stroke="#8a8a8a" stroke-width="0.6"/>
<path d="M58.8 19.0 L65.3 12.5 H75.3 L81.8 19.0 V35.5 H58.8 Z" fill="url(#cellg)"/>
<rect x="67.8" y="21.5" width="5" height="5" fill="#e4e4e4" stroke="#8a8a8a" stroke-width="0.6"/>
<path d="M6.0 45.0 L12.5 38.5 H22.5 L29.0 45.0 V61.5 H6.0 Z" fill="url(#cellg)"/>
<rect x="15.0" y="47.5" width="5" height="5" fill="#e4e4e4" stroke="#8a8a8a" stroke-width="0.6"/>
<path d="M32.2 38.5 H55.2 V61.5 H32.2 Z" fill="url(#cellg)"/>
<rect x="41.2" y="47.5" width="5" height="5" fill="#e4e4e4" stroke="#8a8a8a" stroke-width="0.6"/>
<path d="M58.8 38.5 H81.8 V61.5 H58.8 Z" fill="url(#cellg)"/>
<rect x="67.8" y="47.5" width="5" height="5" fill="#e4e4e4" stroke="#8a8a8a" stroke-width="0.6"/>
</g></g>
<g><g transform="translate(731.2,676.9)">
<rect x="89" y="3" width="2.5" height="61.0" fill="#b9bcbe"/>
<rect x="0.8" y="1.2" width="88.2" height="65.8" rx="1.5" fill="#eef0f1"/>
<rect x="3.5" y="-1.5" width="9" height="4" rx="1.5" fill="#eceeef"/>
<rect x="77" y="-1.5" width="9" height="4" rx="1.5" fill="#eceeef"/>
<rect x="-1.2" y="27" width="3" height="8" rx="1.2" fill="#eceeef"/>
<rect x="33" y="65.0" width="22.5" height="11.5" fill="#e6e8e9"/>
<rect x="3" y="1" width="83" height="7.5" fill="#d3d5d6"/>
<rect x="3" y="8.5" width="83" height="2" fill="#f4f5f5"/>
<path d="M6.0 12.5 H29.0 V35.5 H6.0 Z" fill="url(#cellg)"/>
<rect x="15.0" y="21.5" width="5" height="5" fill="#e4e4e4" stroke="#8a8a8a" stroke-width="0.6"/>
<path d="M32.2 19.0 L38.7 12.5 H48.7 L55.2 19.0 V35.5 H32.2 Z" fill="url(#cellg)"/>
<rect x="41.2" y="21.5" width="5" height="5" fill="#e4e4e4" stroke="#8a8a8a" stroke-width="0.6"/>
<path d="M58.8 19.0 L65.3 12.5 H75.3 L81.8 19.0 V35.5 H58.8 Z" fill="url(#cellg)"/>
<rect x="67.8" y="21.5" width="5" height="5" fill="#e4e4e4" stroke="#8a8a8a" stroke-width="0.6"/>
<path d="M6.0 45.0 L12.5 38.5 H22.5 L29.0 45.0 V61.5 H6.0 Z" fill="url(#cellg)"/>
<rect x="15.0" y="47.5" width="5" height="5" fill="#e4e4e4" stroke="#8a8a8a" stroke-width="0.6"/>
<path d="M32.2 38.5 H55.2 V61.5 H32.2 Z" fill="url(#cellg)"/>
<rect x="41.2" y="47.5" width="5" height="5" fill="#e4e4e4" stroke="#8a8a8a" stroke-width="0.6"/>
<path d="M58.8 38.5 H81.8 V61.5 H58.8 Z" fill="url(#cellg)"/>
<rect x="67.8" y="47.5" width="5" height="5" fill="#e4e4e4" stroke="#8a8a8a" stroke-width="0.6"/>
</g></g>
<g clip-path="url(#c4clip)"><g transform="translate(828.1,676.9)">
<rect x="0.8" y="1.2" width="88.2" height="65.8" rx="1.5" fill="#eef0f1"/>
<rect x="3.5" y="-1.5" width="9" height="4" rx="1.5" fill="#eceeef"/>
<rect x="77" y="-1.5" width="9" height="4" rx="1.5" fill="#eceeef"/>
<rect x="-1.2" y="27" width="3" height="8" rx="1.2" fill="#eceeef"/>
<rect x="33" y="65.0" width="22.5" height="11.5" fill="#e6e8e9"/>
<rect x="3" y="1" width="83" height="7.5" fill="#d3d5d6"/>
<rect x="3" y="8.5" width="83" height="2" fill="#f4f5f5"/>
<path d="M6.0 12.5 H29.0 V35.5 H6.0 Z" fill="url(#cellg)"/>
<rect x="15.0" y="21.5" width="5" height="5" fill="#e4e4e4" stroke="#8a8a8a" stroke-width="0.6"/>
<path d="M32.2 19.0 L38.7 12.5 H48.7 L55.2 19.0 V35.5 H32.2 Z" fill="url(#cellg)"/>
<rect x="41.2" y="21.5" width="5" height="5" fill="#e4e4e4" stroke="#8a8a8a" stroke-width="0.6"/>
<path d="M58.8 19.0 L65.3 12.5 H75.3 L81.8 19.0 V35.5 H58.8 Z" fill="url(#cellg)"/>
<rect x="67.8" y="21.5" width="5" height="5" fill="#e4e4e4" stroke="#8a8a8a" stroke-width="0.6"/>
<path d="M6.0 45.0 L12.5 38.5 H22.5 L29.0 45.0 V61.5 H6.0 Z" fill="url(#cellg)"/>
<rect x="15.0" y="47.5" width="5" height="5" fill="#e4e4e4" stroke="#8a8a8a" stroke-width="0.6"/>
<path d="M32.2 38.5 H55.2 V61.5 H32.2 Z" fill="url(#cellg)"/>
<rect x="41.2" y="47.5" width="5" height="5" fill="#e4e4e4" stroke="#8a8a8a" stroke-width="0.6"/>
<path d="M58.8 38.5 H81.8 V61.5 H58.8 Z" fill="url(#cellg)"/>
<rect x="67.8" y="47.5" width="5" height="5" fill="#e4e4e4" stroke="#8a8a8a" stroke-width="0.6"/>
</g></g>
<rect x="385.6" y="306.3" width="82.9" height="30.9" fill="none" stroke="#e6e6e6" stroke-width="1.5"/>
<rect x="394.4" y="326" width="59.6" height="11" fill="#25272a"/>
<rect x="397.5" y="315.6" width="54.5" height="10.4" fill="#141516"/>
<rect x="409.8" y="302.2" width="36.1" height="13.6" fill="#1b1c1d"/>
<rect x="407.79999999999995" y="317.7" width="3.2" height="3.2" fill="#e0e0e0"/>
<rect x="424.09999999999997" y="317.7" width="3.2" height="3.2" fill="#e0e0e0"/>
<rect x="439.79999999999995" y="317.7" width="3.2" height="3.2" fill="#e0e0e0"/>
<text x="391" y="351.5" font-family="Liberation Mono" font-size="14" font-weight="normal" fill="#e8e8e8" textLength="65" lengthAdjust="spacingAndGlyphs">FAN(12V)</text>
<rect x="368.8" y="451" width="139" height="44.5" fill="#0f0f0f"/>
<rect x="368.8" y="451" width="139" height="4" fill="#262626"/>
<polyline points="517,451 517,489.5 509,500.5 400,500.5" fill="none" stroke="#dadada" stroke-width="1.2"/>
<polyline points="513.5,455 513.5,488 506.5,497 395,497" fill="none" stroke="#9a9a9a" stroke-width="1"/>
<circle cx="393.7" cy="475" r="12" fill="#070707"/>
<circle cx="393.7" cy="474" r="3.6" fill="#f0f0f0"/>
<circle cx="388.7" cy="478" r="0.9" fill="#ddd"/><circle cx="398.2" cy="478.5" r="1" fill="#ddd"/><circle cx="396.7" cy="469" r="0.8" fill="#ccc"/>
<circle cx="393.7" cy="474" r="1.2" fill="#777"/>
<circle cx="424" cy="475" r="12" fill="#070707"/>
<circle cx="424" cy="474" r="3.6" fill="#f0f0f0"/>
<circle cx="419" cy="478" r="0.9" fill="#ddd"/><circle cx="428.5" cy="478.5" r="1" fill="#ddd"/><circle cx="427" cy="469" r="0.8" fill="#ccc"/>
<circle cx="424" cy="474" r="1.2" fill="#777"/>
<circle cx="455.4" cy="474.5" r="12" fill="#070707"/>
<circle cx="455.4" cy="473.5" r="3.6" fill="#f0f0f0"/>
<circle cx="450.4" cy="477.5" r="0.9" fill="#ddd"/><circle cx="459.9" cy="478.0" r="1" fill="#ddd"/><circle cx="458.4" cy="468.5" r="0.8" fill="#ccc"/>
<circle cx="455.4" cy="473.5" r="1.2" fill="#777"/>
<circle cx="486.7" cy="474.5" r="12" fill="#070707"/>
<circle cx="486.7" cy="473.5" r="3.6" fill="#f0f0f0"/>
<circle cx="481.7" cy="477.5" r="0.9" fill="#ddd"/><circle cx="491.2" cy="478.0" r="1" fill="#ddd"/><circle cx="489.7" cy="468.5" r="0.8" fill="#ccc"/>
<circle cx="486.7" cy="473.5" r="1.2" fill="#777"/>
<rect x="387.8" y="525.2" width="7" height="60" fill="#bcbcbc"/>
<rect x="379.3" y="534.9" width="24.1" height="39" rx="1" fill="none" stroke="#d0d0d0" stroke-width="1.2"/>
<rect x="380.8" y="536.9" width="21" height="35" fill="#c9c9c9"/>
<rect x="383.5" y="541.5" width="15" height="27" fill="#8c8c8c"/>
<rect x="385" y="546.5" width="9" height="18" fill="#dedede"/>
<rect x="432.7" y="516.7" width="32.10000000000002" height="83.5" fill="none" stroke="#dedede" stroke-width="1.3"/>
<rect x="428.7" y="528" width="37.10000000000002" height="62" fill="#e2e2e0"/>
<rect x="429.7" y="528" width="35.10000000000002" height="3" fill="#f2f2f0"/>
<rect x="435.7" y="552.3" width="3.3" height="13" fill="#111"/>
<rect x="441.7" y="534.0" width="3" height="3" fill="#777"/>
<rect x="441.7" y="547.5" width="3" height="3" fill="#777"/>
<rect x="441.7" y="561.0" width="3" height="3" fill="#777"/>
<rect x="497.6" y="516.7" width="32.89999999999998" height="83.5" fill="none" stroke="#dedede" stroke-width="1.3"/>
<rect x="493.6" y="528" width="37.89999999999998" height="62" fill="#e2e2e0"/>
<rect x="494.6" y="528" width="35.89999999999998" height="3" fill="#f2f2f0"/>
<rect x="500.6" y="552.3" width="3.3" height="13" fill="#111"/>
<rect x="506.6" y="534.0" width="3" height="3" fill="#777"/>
<rect x="506.6" y="547.5" width="3" height="3" fill="#777"/>
<rect x="506.6" y="561.0" width="3" height="3" fill="#777"/>
<text x="467.5" y="527.8" font-family="Liberation Mono" font-size="14" font-weight="bold" fill="#e8e8e8" textLength="16.5" lengthAdjust="spacingAndGlyphs" transform="rotate(90 467.5 527.8)">5U</text>
<text x="467.5" y="570" font-family="Liberation Mono" font-size="14" font-weight="bold" fill="#e8e8e8" textLength="25" lengthAdjust="spacingAndGlyphs" transform="rotate(90 467.5 570)">SY1</text>
<text x="532" y="527.8" font-family="Liberation Mono" font-size="14" font-weight="bold" fill="#e8e8e8" textLength="16.5" lengthAdjust="spacingAndGlyphs" transform="rotate(90 532 527.8)">5U</text>
<text x="532" y="571" font-family="Liberation Mono" font-size="14" font-weight="bold" fill="#e8e8e8" textLength="25" lengthAdjust="spacingAndGlyphs" transform="rotate(90 532 571)">SY2</text>
<text x="418.6" y="515.4" font-family="Liberation Mono" font-size="13.5" font-weight="bold" fill="#e8e8e8" textLength="80.5" lengthAdjust="spacingAndGlyphs" transform="rotate(90 418.6 515.4)">/SYNCHRON</text>
<text x="406.9" y="529.7" font-family="Liberation Mono" font-size="14" font-weight="bold" fill="#e8e8e8" textLength="52" lengthAdjust="spacingAndGlyphs" transform="rotate(90 406.9 529.7)">ON/OFF</text>
<rect x="440.3" y="618.2" width="2.9" height="9.5" rx="1" fill="#d8d8d8"/>
<rect x="440.3" y="654" width="2.9" height="10.5" rx="1" fill="#d8d8d8"/>
<rect x="447.9" y="618.2" width="2.9" height="9.5" rx="1" fill="#d8d8d8"/>
<rect x="447.9" y="654" width="2.9" height="10.5" rx="1" fill="#d8d8d8"/>
<rect x="455.4" y="618.2" width="2.9" height="9.5" rx="1" fill="#d8d8d8"/>
<rect x="455.4" y="654" width="2.9" height="10.5" rx="1" fill="#d8d8d8"/>
<rect x="462.9" y="618.2" width="2.9" height="9.5" rx="1" fill="#d8d8d8"/>
<rect x="462.9" y="654" width="2.9" height="10.5" rx="1" fill="#d8d8d8"/>
<rect x="470.5" y="618.2" width="2.9" height="9.5" rx="1" fill="#d8d8d8"/>
<rect x="470.5" y="654" width="2.9" height="10.5" rx="1" fill="#d8d8d8"/>
<rect x="478.1" y="618.2" width="2.9" height="9.5" rx="1" fill="#d8d8d8"/>
<rect x="478.1" y="654" width="2.9" height="10.5" rx="1" fill="#d8d8d8"/>
<rect x="485.6" y="618.2" width="2.9" height="9.5" rx="1" fill="#d8d8d8"/>
<rect x="485.6" y="654" width="2.9" height="10.5" rx="1" fill="#d8d8d8"/>
<rect x="493.2" y="618.2" width="2.9" height="9.5" rx="1" fill="#d8d8d8"/>
<rect x="493.2" y="654" width="2.9" height="10.5" rx="1" fill="#d8d8d8"/>
<polyline points="498.3,629 498.3,654.6 494,654.6" fill="none" stroke="#cfcfcf" stroke-width="1.2"/>
<text x="432" y="650" font-family="Liberation Mono" font-size="10" font-weight="normal" fill="#e8e8e8" textLength="10" lengthAdjust="spacingAndGlyphs" transform="rotate(-90 432 650)">U1</text>
<path d="M406.8 679.3 H535" stroke="#d6d6d6" stroke-width="1.3" fill="none"/>
<path d="M397.6 686 Q399 684.2 404 684.2 H534" stroke="#d6d6d6" stroke-width="1.4" fill="none"/>
<path d="M534.7 684.2 V744" stroke="#cfcfcf" stroke-width="1.4" fill="none"/>
<g transform="translate(410.0,694) skewX(-10.3)">
<polygon points="1.70,0.00 23.80,0.00 18.90,4.90 6.60,4.90" fill="#b9b9b9"/>
<polygon points="25.50,1.70 25.50,20.05 23.05,20.05 20.60,17.60 20.60,6.60" fill="#b9b9b9"/>
<polygon points="25.50,23.45 25.50,41.80 20.60,36.90 20.60,25.90 23.05,23.45" fill="#b9b9b9"/>
<polygon points="1.70,43.50 23.80,43.50 18.90,38.60 6.60,38.60" fill="#b9b9b9"/>
<polygon points="0.00,23.45 2.45,23.45 4.90,25.90 4.90,36.90 0.00,41.80" fill="#b9b9b9"/>
<polygon points="0.00,1.70 4.90,6.60 4.90,17.60 2.45,20.05 0.00,20.05" fill="#b9b9b9"/>
<polygon points="4.15,21.75 6.60,19.30 18.90,19.30 21.35,21.75 18.90,24.20 6.60,24.20" fill="#b9b9b9"/>
</g>
<circle cx="436.6" cy="734.6" r="1.8" fill="#a0a0a0"/>
<g transform="translate(455.8,694) skewX(-10.3)">
<polygon points="1.70,0.00 23.80,0.00 18.90,4.90 6.60,4.90" fill="#b9b9b9"/>
<polygon points="25.50,1.70 25.50,20.05 23.05,20.05 20.60,17.60 20.60,6.60" fill="#b9b9b9"/>
<polygon points="25.50,23.45 25.50,41.80 20.60,36.90 20.60,25.90 23.05,23.45" fill="#b9b9b9"/>
<polygon points="1.70,43.50 23.80,43.50 18.90,38.60 6.60,38.60" fill="#b9b9b9"/>
<polygon points="0.00,23.45 2.45,23.45 4.90,25.90 4.90,36.90 0.00,41.80" fill="#b9b9b9"/>
<polygon points="0.00,1.70 4.90,6.60 4.90,17.60 2.45,20.05 0.00,20.05" fill="#b9b9b9"/>
<polygon points="4.15,21.75 6.60,19.30 18.90,19.30 21.35,21.75 18.90,24.20 6.60,24.20" fill="#b9b9b9"/>
</g>
<circle cx="482.4" cy="734.6" r="1.8" fill="#a0a0a0"/>
<g transform="translate(501.8,694) skewX(-10.3)">
<polygon points="1.70,0.00 23.80,0.00 18.90,4.90 6.60,4.90" fill="#b9b9b9"/>
<polygon points="25.50,1.70 25.50,20.05 23.05,20.05 20.60,17.60 20.60,6.60" fill="#b9b9b9"/>
<polygon points="25.50,23.45 25.50,41.80 20.60,36.90 20.60,25.90 23.05,23.45" fill="#b9b9b9"/>
<polygon points="1.70,43.50 23.80,43.50 18.90,38.60 6.60,38.60" fill="#b9b9b9"/>
<polygon points="0.00,23.45 2.45,23.45 4.90,25.90 4.90,36.90 0.00,41.80" fill="#b9b9b9"/>
<polygon points="0.00,1.70 4.90,6.60 4.90,17.60 2.45,20.05 0.00,20.05" fill="#b9b9b9"/>
<polygon points="4.15,21.75 6.60,19.30 18.90,19.30 21.35,21.75 18.90,24.20 6.60,24.20" fill="#b9b9b9"/>
</g>
<circle cx="528.4" cy="734.6" r="1.8" fill="#a0a0a0"/>
<text x="647.4" y="428" font-family="Liberation Mono" font-size="18" font-weight="normal" fill="#e8e8e8" textLength="132" lengthAdjust="spacingAndGlyphs">ZYX4816HP-2</text>
<text x="797" y="428" font-family="Liberation Mono" font-size="15.5" font-weight="normal" fill="#e8e8e8" textLength="54.8" lengthAdjust="spacingAndGlyphs">VER3.0</text>
<text x="509" y="323.7" font-family="Liberation Mono" font-size="9" font-weight="bold" fill="#e4e4e4" textLength="15.2" lengthAdjust="spacingAndGlyphs">R55</text>
<rect x="509.5" y="325" width="6" height="5.5" rx="1.2" fill="none" stroke="#e0e0e0" stroke-width="1.1"/>
<rect x="518.5" y="325" width="6" height="5.5" rx="1.2" fill="none" stroke="#e0e0e0" stroke-width="1.1"/>
<text x="491.6" y="341.1" font-family="Liberation Mono" font-size="9" font-weight="bold" fill="#e4e4e4" textLength="15.2" lengthAdjust="spacingAndGlyphs">R56</text>
<rect x="508" y="334.5" width="6" height="5.5" rx="1.2" fill="none" stroke="#e0e0e0" stroke-width="1.1"/>
<rect x="517.5" y="334.5" width="6" height="5.5" rx="1.2" fill="none" stroke="#e0e0e0" stroke-width="1.1"/>
<polyline points="506,349 503.5,349 503.5,357" fill="none" stroke="#ddd" stroke-width="1.2"/>
<polyline points="519.5,349 522.5,349 522.5,357" fill="none" stroke="#ddd" stroke-width="1.2"/>
<rect x="507" y="349" width="12" height="9" fill="#151515"/>
<rect x="511" y="348" width="4" height="4" fill="#bbb"/>
<text x="523.5" y="356.3" font-family="Liberation Mono" font-size="9" font-weight="bold" fill="#e4e4e4" textLength="10.5" lengthAdjust="spacingAndGlyphs">Q9</text>
<rect x="505" y="361" width="3" height="3" fill="#ccc"/><rect x="511.5" y="362" width="2" height="2" fill="#ccc"/><rect x="517" y="361" width="3" height="3" fill="#ccc"/>
<path d="M444 363 H449 M440.5 366 V374 M444 377 H449 M463 363 H469 M472 366 V374 M463 377 H469" stroke="#ddd" stroke-width="1.3" fill="none"/>
<rect x="441" y="366" width="10" height="9" fill="#d0d0d0"/><rect x="461" y="366" width="10" height="9" fill="#d0d0d0"/><rect x="451" y="364" width="10" height="13" fill="#161616"/>
<text x="475" y="374.5" font-family="Liberation Mono" font-size="9" font-weight="bold" fill="#e4e4e4" textLength="10.5" lengthAdjust="spacingAndGlyphs">D4</text>
<rect x="503" y="372" width="5.5" height="6" rx="1.2" fill="none" stroke="#e0e0e0" stroke-width="1.1"/>
<rect x="510.5" y="372" width="5.5" height="6" rx="1.2" fill="none" stroke="#e0e0e0" stroke-width="1.1"/>
<text x="517.5" y="379" font-family="Liberation Mono" font-size="9" font-weight="bold" fill="#e4e4e4" textLength="15.8" lengthAdjust="spacingAndGlyphs">R54</text>
<rect x="503" y="381.5" width="5.5" height="6" rx="1.2" fill="none" stroke="#e0e0e0" stroke-width="1.1"/>
<rect x="510.5" y="381.5" width="5.5" height="6" rx="1.2" fill="none" stroke="#e0e0e0" stroke-width="1.1"/>
<text x="517.5" y="388.1" font-family="Liberation Mono" font-size="9" font-weight="bold" fill="#e4e4e4" textLength="15.8" lengthAdjust="spacingAndGlyphs">R59</text>
<text x="485.5" y="398.8" font-family="Liberation Mono" font-size="9" font-weight="bold" fill="#e4e4e4" textLength="16" lengthAdjust="spacingAndGlyphs">LD2</text>
<rect x="502.5" y="392.5" width="20.5" height="8" fill="#cfcfcf" stroke="#e8e8e8" stroke-width="1"/>
<rect x="506" y="394.5" width="13" height="4" fill="#8a8a8a"/>
<path d="M524.5 396.8 H530 M527.3 394 V399.6" stroke="#ddd" stroke-width="1.2"/>
<rect x="440" y="392.5" width="6" height="6" rx="1.2" fill="none" stroke="#e0e0e0" stroke-width="1.1"/>
<rect x="449" y="392.5" width="6" height="6" rx="1.2" fill="none" stroke="#e0e0e0" stroke-width="1.1"/>
<text x="455.5" y="398.8" font-family="Liberation Mono" font-size="9" font-weight="bold" fill="#e4e4e4" textLength="8" lengthAdjust="spacingAndGlyphs">C4</text>
<rect x="456" y="409.4" width="18" height="34" fill="#141414"/>
<rect x="442.3" y="413.2" width="11.4" height="3" rx="1.5" fill="#e0e0e0"/>
<rect x="477.2" y="413.2" width="11.4" height="3" rx="1.5" fill="#e0e0e0"/>
<rect x="442.3" y="420.8" width="11.4" height="3" rx="1.5" fill="#e0e0e0"/>
<rect x="477.2" y="420.8" width="11.4" height="3" rx="1.5" fill="#e0e0e0"/>
<rect x="442.3" y="428.4" width="11.4" height="3" rx="1.5" fill="#e0e0e0"/>
<rect x="477.2" y="428.4" width="11.4" height="3" rx="1.5" fill="#e0e0e0"/>
<rect x="442.3" y="435.7" width="11.4" height="3" rx="1.5" fill="#e0e0e0"/>
<rect x="477.2" y="435.7" width="11.4" height="3" rx="1.5" fill="#e0e0e0"/>
<path d="M456 408.5 H472" stroke="#ccc" stroke-width="1"/>
<text x="488.5" y="440" font-family="Liberation Mono" font-size="8" font-weight="bold" fill="#e4e4e4" textLength="8.5" lengthAdjust="spacingAndGlyphs" transform="rotate(180 488.5 440)">U6</text>
<text x="497.5" y="429.5" font-family="Liberation Mono" font-size="9" font-weight="bold" fill="#e4e4e4" textLength="14" lengthAdjust="spacingAndGlyphs" transform="rotate(-90 497.5 429.5)">C15</text>
<text x="497.5" y="450" font-family="Liberation Mono" font-size="9" font-weight="bold" fill="#e4e4e4" textLength="14" lengthAdjust="spacingAndGlyphs" transform="rotate(-90 497.5 450)">R58</text>
<rect x="498.5" y="409" width="6" height="6" rx="1.2" fill="none" stroke="#e0e0e0" stroke-width="1.1"/>
<rect x="498.5" y="419" width="6" height="6" rx="1.2" fill="none" stroke="#e0e0e0" stroke-width="1.1"/>
<rect x="498.5" y="429" width="6" height="6" rx="1.2" fill="none" stroke="#e0e0e0" stroke-width="1.1"/>
<rect x="498.5" y="437" width="6" height="6" rx="1.2" fill="none" stroke="#e0e0e0" stroke-width="1.1"/>
<text x="513" y="425" font-family="Liberation Mono" font-size="9" font-weight="bold" fill="#e4e4e4" textLength="14" lengthAdjust="spacingAndGlyphs" transform="rotate(-90 513 425)">LD1</text>
<rect x="505" y="424" width="7" height="20" fill="#bcbcbc" stroke="#e0e0e0" stroke-width="1"/>
<rect x="507" y="428" width="3" height="12" fill="#7a7a7a"/>
<text x="523.5" y="428" font-family="Liberation Mono" font-size="9" font-weight="bold" fill="#e4e4e4" textLength="14" lengthAdjust="spacingAndGlyphs" transform="rotate(-90 523.5 428)">R72</text>
<rect x="515.5" y="430" width="6" height="6" rx="1.2" fill="none" stroke="#e0e0e0" stroke-width="1.1"/>
<rect x="515.5" y="438" width="6" height="6" rx="1.2" fill="none" stroke="#e0e0e0" stroke-width="1.1"/>
<text x="532.5" y="428" font-family="Liberation Mono" font-size="9" font-weight="bold" fill="#e4e4e4" textLength="14" lengthAdjust="spacingAndGlyphs" transform="rotate(-90 532.5 428)">C14</text>
<rect x="524.5" y="430" width="6" height="6" rx="1.2" fill="none" stroke="#e0e0e0" stroke-width="1.1"/>
<rect x="524.5" y="438" width="6" height="6" rx="1.2" fill="none" stroke="#e0e0e0" stroke-width="1.1"/>
<text x="531" y="414.5" font-family="Liberation Mono" font-size="9" font-weight="bold" fill="#e4e4e4" textLength="14" lengthAdjust="spacingAndGlyphs">C13</text>
<rect x="533.5" y="416" width="10" height="28" rx="1.5" fill="none" stroke="#e0e0e0" stroke-width="1.1"/>
<rect x="535.5" y="419" width="6" height="22" fill="#c9c9c9"/><rect x="535.5" y="426" width="6" height="8" fill="#555"/>
<rect x="404.2" y="356.5" width="12.4" height="26" fill="#2a2b2d"/>
<rect x="397" y="359" width="6" height="4" fill="#dadada"/><rect x="393.5" y="367.5" width="9.5" height="5" fill="#e6e6e6"/><rect x="397" y="377" width="6" height="4" fill="#dadada"/>
<text x="383" y="383" font-family="Liberation Mono" font-size="9" font-weight="bold" fill="#e4e4e4" textLength="10.3" lengthAdjust="spacingAndGlyphs">U3</text>
<path d="M419 364.5 Q430 366 429 371 Q428.5 376 419 377 Z" fill="#d8d8d8"/>
<path d="M419 383 H427.5 V379" stroke="#ddd" stroke-width="1.1" fill="none"/>
<path d="M426.3 357.5 V361" stroke="#ddd" stroke-width="1.1"/>
<rect x="395.5" y="391.5" width="27" height="12.5" rx="1.5" fill="none" stroke="#e0e0e0" stroke-width="1.1"/>
<rect x="398.5" y="393.5" width="21" height="8.5" fill="#d6d6d6"/><rect x="404" y="393.5" width="9" height="8.5" fill="#6a6a6a"/>
<text x="422.8" y="402" font-family="Liberation Mono" font-size="9" font-weight="bold" fill="#e4e4e4" textLength="10" lengthAdjust="spacingAndGlyphs">C3</text>
<text x="397.0" y="433.4" font-family="Liberation Mono" font-size="9" font-weight="bold" fill="#e4e4e4" textLength="20" lengthAdjust="spacingAndGlyphs" transform="rotate(-90 397.0 433.4)">R73</text>
<rect x="389.8" y="436.7" width="6.3" height="6.5" rx="1.2" fill="none" stroke="#e0e0e0" stroke-width="1.1"/>
<text x="405.9" y="433.4" font-family="Liberation Mono" font-size="9" font-weight="bold" fill="#e4e4e4" textLength="20" lengthAdjust="spacingAndGlyphs" transform="rotate(-90 405.9 433.4)">R51</text>
<rect x="398.7" y="436.7" width="6.3" height="6.5" rx="1.2" fill="none" stroke="#e0e0e0" stroke-width="1.1"/>
<text x="414.8" y="433.4" font-family="Liberation Mono" font-size="9" font-weight="bold" fill="#e4e4e4" textLength="20" lengthAdjust="spacingAndGlyphs" transform="rotate(-90 414.8 433.4)">R50</text>
<rect x="407.6" y="436.7" width="6.3" height="6.5" rx="1.2" fill="none" stroke="#e0e0e0" stroke-width="1.1"/>
<text x="423.7" y="433.4" font-family="Liberation Mono" font-size="9" font-weight="bold" fill="#e4e4e4" textLength="20" lengthAdjust="spacingAndGlyphs" transform="rotate(-90 423.7 433.4)">R69</text>
<rect x="416.5" y="436.7" width="6.3" height="6.5" rx="1.2" fill="none" stroke="#e0e0e0" stroke-width="1.1"/>
<text x="432.6" y="433.4" font-family="Liberation Mono" font-size="9" font-weight="bold" fill="#e4e4e4" textLength="20" lengthAdjust="spacingAndGlyphs" transform="rotate(-90 432.6 433.4)">R68</text>
<rect x="425.40000000000003" y="436.7" width="6.3" height="6.5" rx="1.2" fill="none" stroke="#e0e0e0" stroke-width="1.1"/>
<text x="391" y="618.5" font-family="Liberation Mono" font-size="8" font-weight="bold" fill="#e4e4e4" textLength="35" lengthAdjust="spacingAndGlyphs">R39 R40</text>
<rect x="391.5" y="620" width="6" height="5.5" rx="1.2" fill="none" stroke="#e0e0e0" stroke-width="1.1"/>
<rect x="400" y="620" width="6" height="5.5" rx="1.2" fill="none" stroke="#e0e0e0" stroke-width="1.1"/>
<rect x="409" y="620" width="6" height="5.5" rx="1.2" fill="none" stroke="#e0e0e0" stroke-width="1.1"/>
<rect x="418" y="620" width="6" height="5.5" rx="1.2" fill="none" stroke="#e0e0e0" stroke-width="1.1"/>
<text x="394.5" y="653" font-family="Liberation Mono" font-size="8.5" font-weight="bold" fill="#e4e4e4" textLength="20" lengthAdjust="spacingAndGlyphs" transform="rotate(-90 394.5 653)">R32</text>
<rect x="387.2" y="655" width="6.5" height="6.5" rx="1.2" fill="none" stroke="#e0e0e0" stroke-width="1.1"/>
<text x="403.8" y="653" font-family="Liberation Mono" font-size="8.5" font-weight="bold" fill="#e4e4e4" textLength="20" lengthAdjust="spacingAndGlyphs" transform="rotate(-90 403.8 653)">R31</text>
<rect x="396.5" y="655" width="6.5" height="6.5" rx="1.2" fill="none" stroke="#e0e0e0" stroke-width="1.1"/>
<text x="413.1" y="653" font-family="Liberation Mono" font-size="8.5" font-weight="bold" fill="#e4e4e4" textLength="20" lengthAdjust="spacingAndGlyphs" transform="rotate(-90 413.1 653)">R30</text>
<rect x="405.8" y="655" width="6.5" height="6.5" rx="1.2" fill="none" stroke="#e0e0e0" stroke-width="1.1"/>
<text x="422.4" y="653" font-family="Liberation Mono" font-size="8.5" font-weight="bold" fill="#e4e4e4" textLength="20" lengthAdjust="spacingAndGlyphs" transform="rotate(-90 422.4 653)">R36</text>
<rect x="415.09999999999997" y="655" width="6.5" height="6.5" rx="1.2" fill="none" stroke="#e0e0e0" stroke-width="1.1"/>
<rect x="507.5" y="641" width="7" height="7" rx="1.2" fill="none" stroke="#e0e0e0" stroke-width="1.1"/>
<rect x="507.5" y="650" width="7" height="7" rx="1.2" fill="none" stroke="#e0e0e0" stroke-width="1.1"/>
<text x="516.0" y="673" font-family="Liberation Mono" font-size="8.5" font-weight="bold" fill="#e4e4e4" textLength="16" lengthAdjust="spacingAndGlyphs" transform="rotate(-90 516.0 673)">R37</text>
<rect x="516.7" y="641" width="7" height="7" rx="1.2" fill="none" stroke="#e0e0e0" stroke-width="1.1"/>
<rect x="516.7" y="650" width="7" height="7" rx="1.2" fill="none" stroke="#e0e0e0" stroke-width="1.1"/>
<text x="525.2" y="673" font-family="Liberation Mono" font-size="8.5" font-weight="bold" fill="#e4e4e4" textLength="16" lengthAdjust="spacingAndGlyphs" transform="rotate(-90 525.2 673)">R33</text>
<rect x="525.9" y="641" width="7" height="7" rx="1.2" fill="none" stroke="#e0e0e0" stroke-width="1.1"/>
<rect x="525.9" y="650" width="7" height="7" rx="1.2" fill="none" stroke="#e0e0e0" stroke-width="1.1"/>
<text x="534.4" y="673" font-family="Liberation Mono" font-size="8.5" font-weight="bold" fill="#e4e4e4" textLength="16" lengthAdjust="spacingAndGlyphs" transform="rotate(-90 534.4 673)">R34</text>
<rect x="535.1" y="641" width="7" height="7" rx="1.2" fill="none" stroke="#e0e0e0" stroke-width="1.1"/>
<rect x="535.1" y="650" width="7" height="7" rx="1.2" fill="none" stroke="#e0e0e0" stroke-width="1.1"/>
<text x="543.6" y="673" font-family="Liberation Mono" font-size="8.5" font-weight="bold" fill="#e4e4e4" textLength="16" lengthAdjust="spacingAndGlyphs" transform="rotate(-90 543.6 673)">R35</text>
<text x="621" y="403.5" font-family="Liberation Mono" font-size="10" font-weight="bold" fill="#e4e4e4" textLength="8.5" lengthAdjust="spacingAndGlyphs">J1</text>
<text x="717" y="403.5" font-family="Liberation Mono" font-size="10" font-weight="bold" fill="#e4e4e4" textLength="8.5" lengthAdjust="spacingAndGlyphs">J5</text>
<text x="813" y="403.5" font-family="Liberation Mono" font-size="10" font-weight="bold" fill="#e4e4e4" textLength="8.5" lengthAdjust="spacingAndGlyphs">J9</text>
<text x="896.5" y="403.5" font-family="Liberation Mono" font-size="10" font-weight="bold" fill="#e4e4e4" textLength="15" lengthAdjust="spacingAndGlyphs">J13</text>
<text x="621" y="518.5" font-family="Liberation Mono" font-size="10" font-weight="bold" fill="#e4e4e4" textLength="8.5" lengthAdjust="spacingAndGlyphs">J2</text>
<text x="717" y="518.5" font-family="Liberation Mono" font-size="10" font-weight="bold" fill="#e4e4e4" textLength="8.5" lengthAdjust="spacingAndGlyphs">J6</text>
<text x="805" y="518.5" font-family="Liberation Mono" font-size="10" font-weight="bold" fill="#e4e4e4" textLength="15" lengthAdjust="spacingAndGlyphs">J10</text>
<text x="896.5" y="518.5" font-family="Liberation Mono" font-size="10" font-weight="bold" fill="#e4e4e4" textLength="15" lengthAdjust="spacingAndGlyphs">J14</text>
<path d="M673.8 637.5 V660.4 M673.8 648 H684.6" stroke="#e6e6e6" stroke-width="2.4" fill="none"/>
<path d="M702.00 636.38 A11.3 11.3 0 1 0 702.00 658.62" stroke="#e6e6e6" stroke-width="2.4" fill="none"/>
<path d="M701.00 643.09 A5.6 5.6 0 1 0 701.00 652.91" stroke="#e6e6e6" stroke-width="2.2" fill="none"/>
<path d="M733.00 637.04 A10.6 10.6 0 1 0 733.00 657.96" stroke="#e6e6e6" stroke-width="2.4" fill="none"/>
<path d="M752.20 637.05 A10.6 10.6 0 1 0 752.20 657.95 M741 647.5 H752.4" stroke="#e6e6e6" stroke-width="2.4" fill="none"/>
<rect x="828.8" y="644" width="40" height="15.8" fill="#e6e6e6"/>
<text x="832" y="657.2" font-family="Liberation Sans" font-size="12" font-weight="bold" fill="#111" textLength="27.3" lengthAdjust="spacingAndGlyphs">RoHS</text>
<path d="M859.5 653.5 Q860 643 870.5 639.5 Q869 650 859.5 653.5 Z" fill="#e6e6e6"/>
<path d="M861 652 L867 643" stroke="#222" stroke-width="0.8"/>
<path d="M874.8 656.2 L895.7 633.5 M876.6 636.2 L895.7 655.3" stroke="#e6e6e6" stroke-width="1.5" fill="none"/>
<path d="M879.5 641 H891 L889 653 H881.5 Z" stroke="#e6e6e6" stroke-width="1.3" fill="none"/>
<rect x="875.7" y="658.3" width="20" height="2.2" fill="#e6e6e6"/>
<circle cx="909" cy="745" r="2" fill="#ddd"/>
<polyline points="616.5,85 616.5,154" fill="none" stroke="#3a74a2" stroke-width="2.2"/>
<circle cx="616.5" cy="154" r="8" fill="#0c86f0"/>
<polyline points="256,178 256,313 387,313" fill="none" stroke="#3a74a2" stroke-width="2.2"/>
<circle cx="387" cy="313" r="8" fill="#0c86f0"/>
<polyline points="140,481.7 366,481.7" fill="none" stroke="#3a74a2" stroke-width="2.2"/>
<circle cx="366" cy="482" r="8" fill="#0c86f0"/>
<polyline points="258,557.5 376,557.5" fill="none" stroke="#3a74a2" stroke-width="2.2"/>
<circle cx="376" cy="558" r="8" fill="#0c86f0"/>
<polyline points="150,708 150,628.5 522.4,628.5 522.4,577" fill="none" stroke="#3a74a2" stroke-width="2.2"/>
<polyline points="450.8,628.5 450.8,577" fill="none" stroke="#3a74a2" stroke-width="2.2"/>
<circle cx="450.8" cy="577" r="8" fill="#0c86f0"/>
<circle cx="522.4" cy="577" r="8" fill="#0c86f0"/>
<polyline points="466.7,749 466.7,837.5" fill="none" stroke="#3a74a2" stroke-width="2.2"/>
<circle cx="466.7" cy="749.5" r="8" fill="#0c86f0"/>
<polyline points="782.5,743.5 782.5,806.5" fill="none" stroke="#3a74a2" stroke-width="2.2"/>
<circle cx="782.5" cy="743.5" r="8" fill="#0c86f0"/>
<rect x="497.3" y="43.5" width="244.40000000000003" height="41.7" rx="5.5" fill="#0686f2"/>
<text x="509" y="72.2" font-family="Liberation Sans" font-size="24.13" fill="#d2f7ff" stroke="#d2f7ff" stroke-width="0.35" textLength="220.8" lengthAdjust="spacingAndGlyphs">10+14Pin Power Slot</text>
<rect x="171.4" y="137.3" width="173.4" height="41.0" rx="5.5" fill="#0686f2"/>
<text x="182.5" y="166.3" font-family="Liberation Sans" font-size="23.55" fill="#d2f7ff" stroke="#d2f7ff" stroke-width="0.35" textLength="6.7" lengthAdjust="spacingAndGlyphs">(</text>
<text x="196" y="166.3" font-family="Liberation Sans" font-size="23.55" fill="#d2f7ff" stroke="#d2f7ff" stroke-width="0.35" textLength="37.4" lengthAdjust="spacingAndGlyphs">12V</text>
<text x="238" y="166.3" font-family="Liberation Sans" font-size="23.55" fill="#d2f7ff" stroke="#d2f7ff" stroke-width="0.35" textLength="6.2" lengthAdjust="spacingAndGlyphs">)</text>
<text x="258.1" y="166.3" font-family="Liberation Sans" font-size="23.55" fill="#d2f7ff" stroke="#d2f7ff" stroke-width="0.35" textLength="75.9" lengthAdjust="spacingAndGlyphs">DC FAN</text>
<rect x="7.3" y="374.4" width="282.5" height="99.5" rx="5.5" fill="#0686f2"/>
<text x="31.7" y="408.1" font-family="Liberation Sans" font-size="23.55" fill="#d2f7ff" stroke="#d2f7ff" stroke-width="0.35" textLength="231.3" lengthAdjust="spacingAndGlyphs">Sensing ON/OFF 4pin</text>
<text x="74.8" y="432.9" font-family="Liberation Sans" font-size="23.26" fill="#d2f7ff" stroke="#d2f7ff" stroke-width="0.35" textLength="139.4" lengthAdjust="spacingAndGlyphs">ATX Molex or</text>
<text x="31.7" y="457.6" font-family="Liberation Sans" font-size="23.55" fill="#d2f7ff" stroke="#d2f7ff" stroke-width="0.35" textLength="232.9" lengthAdjust="spacingAndGlyphs">Remote Management</text>
<rect x="88.4" y="533.3" width="166.29999999999998" height="41.200000000000045" rx="5.5" fill="#0686f2"/>
<text x="98.3" y="562.1" font-family="Liberation Sans" font-size="23.40" fill="#d2f7ff" stroke="#d2f7ff" stroke-width="0.35" textLength="145.0" lengthAdjust="spacingAndGlyphs">Power Switch</text>
<rect x="19.3" y="708.3" width="307.4" height="68.0" rx="5.5" fill="#0686f2"/>
<text x="119" y="734.7" font-family="Liberation Sans" font-size="22.82" fill="#d2f7ff" stroke="#d2f7ff" stroke-width="0.35" textLength="99.3" lengthAdjust="spacingAndGlyphs">Multi PSU</text>
<text x="38.9" y="759.8" font-family="Liberation Sans" font-size="22.24" fill="#d2f7ff" stroke="#d2f7ff" stroke-width="0.35" textLength="267.0" lengthAdjust="spacingAndGlyphs">ON/OFF Synchronization</text>
<rect x="341.5" y="837.4" width="234.29999999999995" height="38.60000000000002" rx="5.5" fill="#0686f2"/>
<text x="349.6" y="863.9" font-family="Liberation Sans" font-size="22.67" fill="#d2f7ff" stroke="#d2f7ff" stroke-width="0.35" textLength="216.0" lengthAdjust="spacingAndGlyphs">LED Voltage Display</text>
<rect x="678.3" y="806.2" width="200.4000000000001" height="59.09999999999991" rx="5.5" fill="#0686f2"/>
<text x="725.4" y="832" font-family="Liberation Sans" font-size="22.24" fill="#d2f7ff" stroke="#d2f7ff" stroke-width="0.35" textLength="99.6" lengthAdjust="spacingAndGlyphs">ATX 6 Pin</text>
<text x="686.7" y="857" font-family="Liberation Sans" font-size="21.51" fill="#d2f7ff" stroke="#d2f7ff" stroke-width="0.35" textLength="184.5" lengthAdjust="spacingAndGlyphs">Power Connector</text>
</svg>
</body></html>
